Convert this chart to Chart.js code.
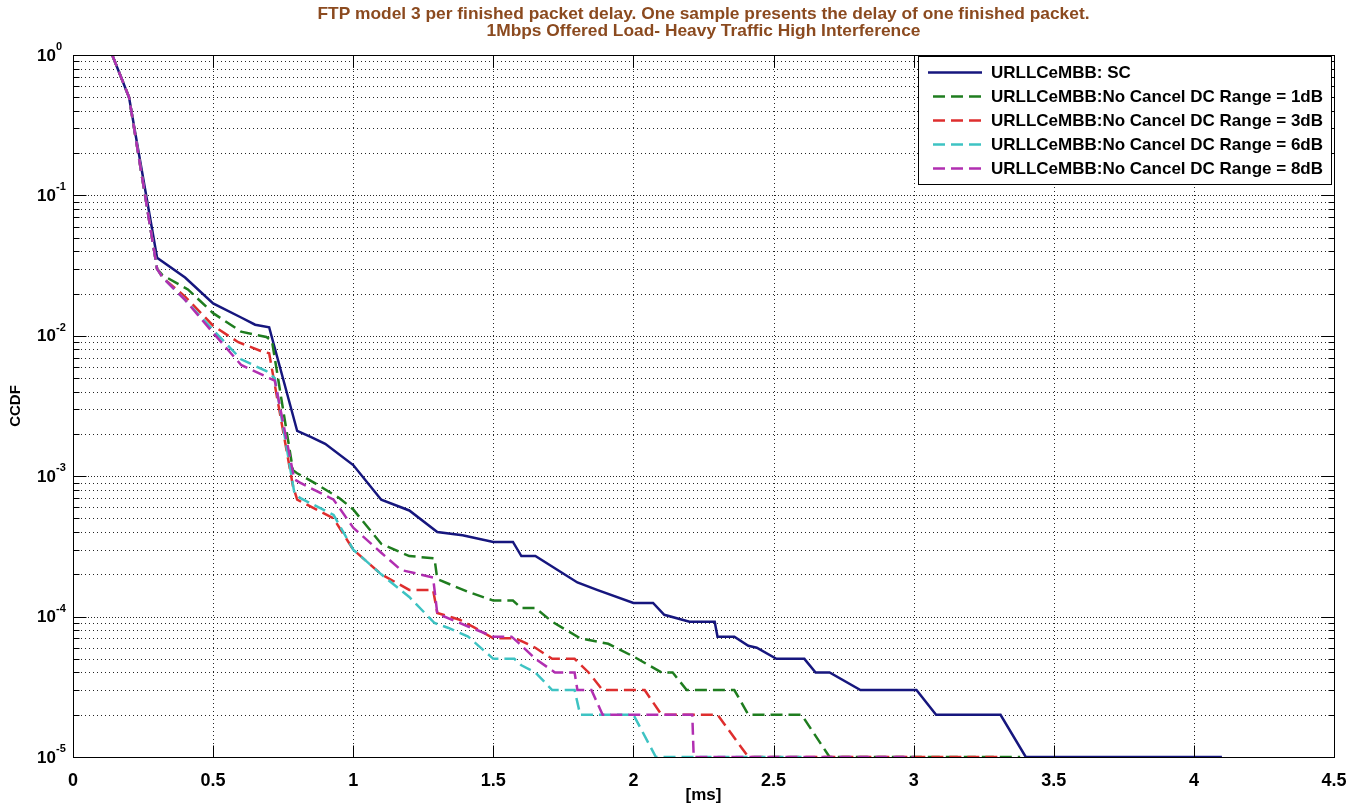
<!DOCTYPE html>
<html>
<head>
<meta charset="utf-8">
<title>FTP model 3 per finished packet delay</title>
<script src="https://cdn.jsdelivr.net/npm/chart.js@4.4.1/dist/chart.umd.min.js"></script>
<style>
  html, body { margin: 0; padding: 0; background: #fff; }
  #wrap { width: 1359px; height: 806px; }
</style>
</head>
<body>
<div id="wrap"><canvas id="ccdfChart" width="1359" height="806"></canvas></div>
<script>
const titleLines = [
    'FTP model 3 per finished packet delay. One sample presents the delay of one finished packet.',
    '1Mbps Offered Load- Heavy Traffic High Interference'
];

const seriesLabels = [
    'URLLCeMBB: SC',
    'URLLCeMBB:No Cancel DC Range = 1dB',
    'URLLCeMBB:No Cancel DC Range = 3dB',
    'URLLCeMBB:No Cancel DC Range = 6dB',
    'URLLCeMBB:No Cancel DC Range = 8dB'
];
const seriesColors = ['#16167e', '#1f7d1f', '#de2e2e', '#3ec3c3', '#b12fb1'];

// delay in ms / CCDF
const scDelay = [0.14, 0.2, 0.3, 0.4, 0.5, 0.6, 0.65, 0.7, 0.8, 0.85, 0.9, 1.0, 1.1, 1.2, 1.3, 1.39, 1.5, 1.57, 1.6, 1.65, 1.8, 1.87, 2.0, 2.07, 2.11, 2.2, 2.29, 2.3, 2.36, 2.41, 2.44, 2.51, 2.61, 2.65, 2.7, 2.81, 3.01, 3.08, 3.31, 3.4, 4.1];
const scCcdf = [1, 0.5, 0.036, 0.026, 0.017, 0.0135, 0.012, 0.0115, 0.0021, 0.0019, 0.0017, 0.0012, 0.00068, 0.00057, 0.0004, 0.00038, 0.00034, 0.00034, 0.00027, 0.00027, 0.000175, 0.000155, 0.000125, 0.000125, 0.000103, 0.000092, 0.000092, 0.000072, 0.000072, 0.000062, 0.00006, 0.00005, 0.00005, 0.00004, 0.00004, 0.00003, 0.00003, 0.00002, 0.00002, 0.00001, 0.00001];

const dc1Delay = [0.14, 0.2, 0.3, 0.32, 0.41, 0.5, 0.6, 0.69, 0.71, 0.785, 0.8, 0.86, 0.95, 1.0, 1.1, 1.2, 1.29, 1.3, 1.41, 1.5, 1.57, 1.6, 1.65, 1.71, 1.81, 1.91, 2.0, 2.1, 2.14, 2.19, 2.36, 2.41, 2.6, 2.7, 3.38];
const dc1Ccdf = [1, 0.5, 0.03, 0.027, 0.0214, 0.0145, 0.0107, 0.0098, 0.0092, 0.0011, 0.00105, 0.0009, 0.0007, 0.00058, 0.00033, 0.00027, 0.00026, 0.000185, 0.00015, 0.00013, 0.00013, 0.000115, 0.000115, 0.000092, 0.00007, 0.000064, 0.000052, 0.00004, 0.00004, 0.00003, 0.00003, 0.00002, 0.00002, 0.00001, 0.00001];

const dc3Delay = [0.14, 0.2, 0.3, 0.32, 0.4, 0.5, 0.59, 0.67, 0.7, 0.785, 0.8, 0.93, 1.0, 1.1, 1.2, 1.285, 1.3, 1.38, 1.45, 1.5, 1.58, 1.65, 1.71, 1.79, 1.84, 1.89, 2.0, 2.04, 2.1, 2.3, 2.41, 3.32];
const dc3Ccdf = [1, 0.5, 0.03, 0.026, 0.019, 0.0118, 0.009, 0.0078, 0.0075, 0.00085, 0.00068, 0.0005, 0.0003, 0.0002, 0.000155, 0.000155, 0.000106, 0.000095, 0.00008, 0.00007, 0.00007, 0.00006, 0.00005, 0.00005, 0.00004, 0.00003, 0.00003, 0.00003, 0.00002, 0.00002, 0.00001, 0.00001];

const dc6Delay = [0.14, 0.2, 0.3, 0.32, 0.4, 0.5, 0.6, 0.69, 0.72, 0.79, 0.81, 0.93, 1.0, 1.1, 1.2, 1.29, 1.34, 1.41, 1.5, 1.575, 1.6, 1.65, 1.71, 1.79, 1.81, 2.0, 2.08, 2.6];
const dc6Ccdf = [1, 0.5, 0.03, 0.026, 0.018, 0.011, 0.0068, 0.0056, 0.005, 0.00076, 0.0007, 0.00053, 0.0003, 0.0002, 0.000138, 0.00009, 0.000083, 0.000072, 0.00005, 0.00005, 0.000045, 0.00004, 0.00003, 0.00003, 0.00002, 0.00002, 0.00001, 0.00001];

const dc8Delay = [0.14, 0.2, 0.3, 0.32, 0.4, 0.5, 0.6, 0.7, 0.72, 0.79, 0.81, 0.93, 1.0, 1.1, 1.17, 1.285, 1.3, 1.41, 1.5, 1.565, 1.59, 1.65, 1.72, 1.79, 1.8, 1.85, 1.89, 2.21, 2.215, 3.0];
const dc8Ccdf = [1, 0.5, 0.03, 0.026, 0.018, 0.0105, 0.0062, 0.005, 0.0048, 0.00095, 0.0009, 0.00068, 0.00043, 0.000285, 0.000215, 0.00019, 0.000105, 0.000085, 0.000072, 0.000072, 0.000065, 0.00005, 0.00004, 0.00004, 0.00003, 0.00003, 0.00002, 0.00002, 0.00001, 0.00001];

const xTickValues = [0, 0.5, 1, 1.5, 2, 2.5, 3, 3.5, 4, 4.5];
const xTickLabels = ['0', '0.5', '1', '1.5', '2', '2.5', '3', '3.5', '4', '4.5'];
const yDecades = [1e-5, 1e-4, 1e-3, 1e-2, 1e-1, 1];
const yDecadeExponents = ['-5', '-4', '-3', '-2', '-1', '0'];
const yMinorFactors = [2, 3, 4, 5, 6, 7, 8, 9];

const yGridValues = [];
yDecades.forEach((d, i) => {
    yGridValues.push({ value: d, major: true });
    if (i < yDecades.length - 1) {
        yMinorFactors.forEach(f => yGridValues.push({ value: d * f, major: false }));
    }
});

const BOLD = '"Liberation Sans", Arial, sans-serif';
const NARROW = '"Liberation Sans Narrow", "Arial Narrow", "Liberation Sans", Arial, sans-serif';

function pairs(xs, ys) {
    return xs.map((x, i) => ({ x: x, y: ys[i] }));
}

function hline(ctx, x1, x2, y) {
    ctx.beginPath(); ctx.moveTo(x1, y); ctx.lineTo(x2, y); ctx.stroke();
}
function vline(ctx, x, y1, y2) {
    ctx.beginPath(); ctx.moveTo(x, y1); ctx.lineTo(x, y2); ctx.stroke();
}

// grid, frame, ticks, legend and title drawn the matlab way
const matlabLook = {
    id: 'matlabLook',
    beforeDatasetsDraw(chart) {
        const { ctx, chartArea: a, scales: { x, y } } = chart;
        ctx.save();
        ctx.lineWidth = 1;
        ctx.strokeStyle = 'rgba(0,0,0,0.85)';
        ctx.setLineDash([1, 3]);
        xTickValues.forEach(v => {
            const px = Math.round(x.getPixelForValue(v)) + 0.5;
            if (px < a.left + 2 || px > a.right - 2) return;
            vline(ctx, px, a.top, a.bottom);
        });
        yGridValues.forEach(t => {
            const py = Math.round(y.getPixelForValue(t.value)) + 0.5;
            if (py < a.top + 2 || py > a.bottom - 2) return;
            ctx.setLineDash(t.major ? [1, 2] : [1, 3]);
            hline(ctx, a.left, a.right, py);
        });
        ctx.restore();
    },
    afterDatasetsDraw(chart) {
        const { ctx, chartArea: a, scales: { x, y } } = chart;
        const L = Math.round(a.left) + 0.5, R = Math.round(a.right) + 0.5;
        const T = Math.round(a.top) + 0.5, B = Math.round(a.bottom) + 0.5;
        ctx.save();
        ctx.strokeStyle = '#000';
        ctx.lineWidth = 1;
        ctx.setLineDash([]);
        ctx.strokeRect(L, T, R - L, B - T);

        yGridValues.forEach(t => {
            const py = Math.round(y.getPixelForValue(t.value)) + 0.5;
            const len = t.major ? 13 : 6;
            hline(ctx, L, L + len, py);
            hline(ctx, R - len, R, py);
        });
        xTickValues.forEach(v => {
            const px = Math.round(x.getPixelForValue(v)) + 0.5;
            vline(ctx, px, B - 12, B);
            vline(ctx, px, T, T + 12);
        });

        // legend box
        const box = { left: 918.5, top: T + 1, right: R - 3, bottom: 184.5 };
        ctx.fillStyle = '#fff';
        ctx.fillRect(box.left, box.top, box.right - box.left, box.bottom - box.top);
        ctx.strokeRect(box.left, box.top, box.right - box.left, box.bottom - box.top);
        ctx.font = 'bold 17px ' + BOLD;
        ctx.textBaseline = 'middle';
        ctx.textAlign = 'left';
        chart.data.datasets.forEach((ds, i) => {
            const ry = box.top + 16 + i * 24;
            ctx.save();
            ctx.strokeStyle = ds.borderColor;
            ctx.lineWidth = ds.borderWidth;
            ctx.setLineDash(ds.borderDash || []);
            ctx.beginPath();
            ctx.moveTo(i === 0 ? 928 : 933, ry);
            ctx.lineTo(982, ry);
            ctx.stroke();
            ctx.restore();
            ctx.fillStyle = '#000';
            ctx.fillText(ds.label, 991, ry + 1);
        });
        ctx.restore();
    },
    afterDraw(chart) {
        const { ctx, chartArea: a, scales: { y } } = chart;
        ctx.save();
        // title, squeezed to the width of the original
        ctx.fillStyle = '#8b4a1f';
        ctx.textAlign = 'center';
        ctx.textBaseline = 'middle';
        ctx.font = 'bold 17px ' + NARROW;
        const sx = 772 / ctx.measureText(titleLines[0]).width;
        const cx = (a.left + a.right) / 2;
        [14, 31].forEach((ty, i) => {
            ctx.save();
            ctx.translate(cx, ty);
            ctx.scale(sx, 1);
            ctx.fillText(titleLines[i], 0, 0);
            ctx.restore();
        });

        // 10^n labels
        ctx.fillStyle = '#000';
        yDecades.forEach((d, i) => {
            const py = y.getPixelForValue(d);
            ctx.font = 'bold 17px ' + BOLD;
            ctx.textAlign = 'right';
            ctx.fillText('10', 56, py + 1);
            ctx.font = 'bold 11px ' + BOLD;
            ctx.textAlign = 'left';
            ctx.fillText(yDecadeExponents[i], 56, py - 8);
        });
        ctx.restore();
    }
};

function lineSet(label, xs, ys, color, dashed, order) {
    return {
        label: label,
        data: pairs(xs, ys),
        borderColor: color,
        backgroundColor: color,
        borderWidth: 2.5,
        borderDash: dashed ? [12, 6] : [],
        pointRadius: 0,
        tension: 0,
        fill: false,
        order: order
    };
}

new Chart(document.getElementById('ccdfChart'), {
    type: 'line',
    data: {
        datasets: [
            lineSet(seriesLabels[0], scDelay, scCcdf, seriesColors[0], false, 5),
            lineSet(seriesLabels[1], dc1Delay, dc1Ccdf, seriesColors[1], true, 4),
            lineSet(seriesLabels[2], dc3Delay, dc3Ccdf, seriesColors[2], true, 3),
            lineSet(seriesLabels[3], dc6Delay, dc6Ccdf, seriesColors[3], true, 2),
            lineSet(seriesLabels[4], dc8Delay, dc8Ccdf, seriesColors[4], true, 1)
        ]
    },
    options: {
        responsive: false,
        animation: false,
        devicePixelRatio: 1,
        layout: { padding: { top: 55, right: 25, left: 0, bottom: 0 } },
        plugins: {
            legend: { display: false },
            title: { display: false },
            tooltip: { enabled: false }
        },
        scales: {
            x: {
                type: 'linear',
                min: 0,
                max: 4.5,
                grid: { display: false },
                border: { display: false },
                afterBuildTicks: s => { s.ticks = xTickValues.map(v => ({ value: v })); },
                afterFit: s => { s.height = 49; },
                ticks: {
                    padding: 5,
                    color: '#000',
                    font: { family: NARROW, size: 18, weight: 'bold' },
                    maxRotation: 0,
                    autoSkip: false,
                    callback: (v, i) => xTickLabels[i]
                },
                title: {
                    display: true,
                    text: '[ms]',
                    color: '#000',
                    font: { family: NARROW, size: 17, weight: 'bold' },
                    padding: { top: 0, bottom: 0 }
                }
            },
            y: {
                type: 'logarithmic',
                min: 1e-5,
                max: 1,
                grid: { display: false },
                border: { display: false },
                afterBuildTicks: s => { s.ticks = yGridValues.map(t => ({ value: t.value, major: t.major })); },
                afterFit: s => { s.width = 73; },
                ticks: { display: false },
                title: {
                    display: true,
                    text: 'CCDF',
                    color: '#000',
                    font: { family: BOLD, size: 15, weight: 'bold' },
                    padding: { top: 7, bottom: 0 }
                }
            }
        }
    },
    plugins: [matlabLook]
});
</script>
</body>
</html>
